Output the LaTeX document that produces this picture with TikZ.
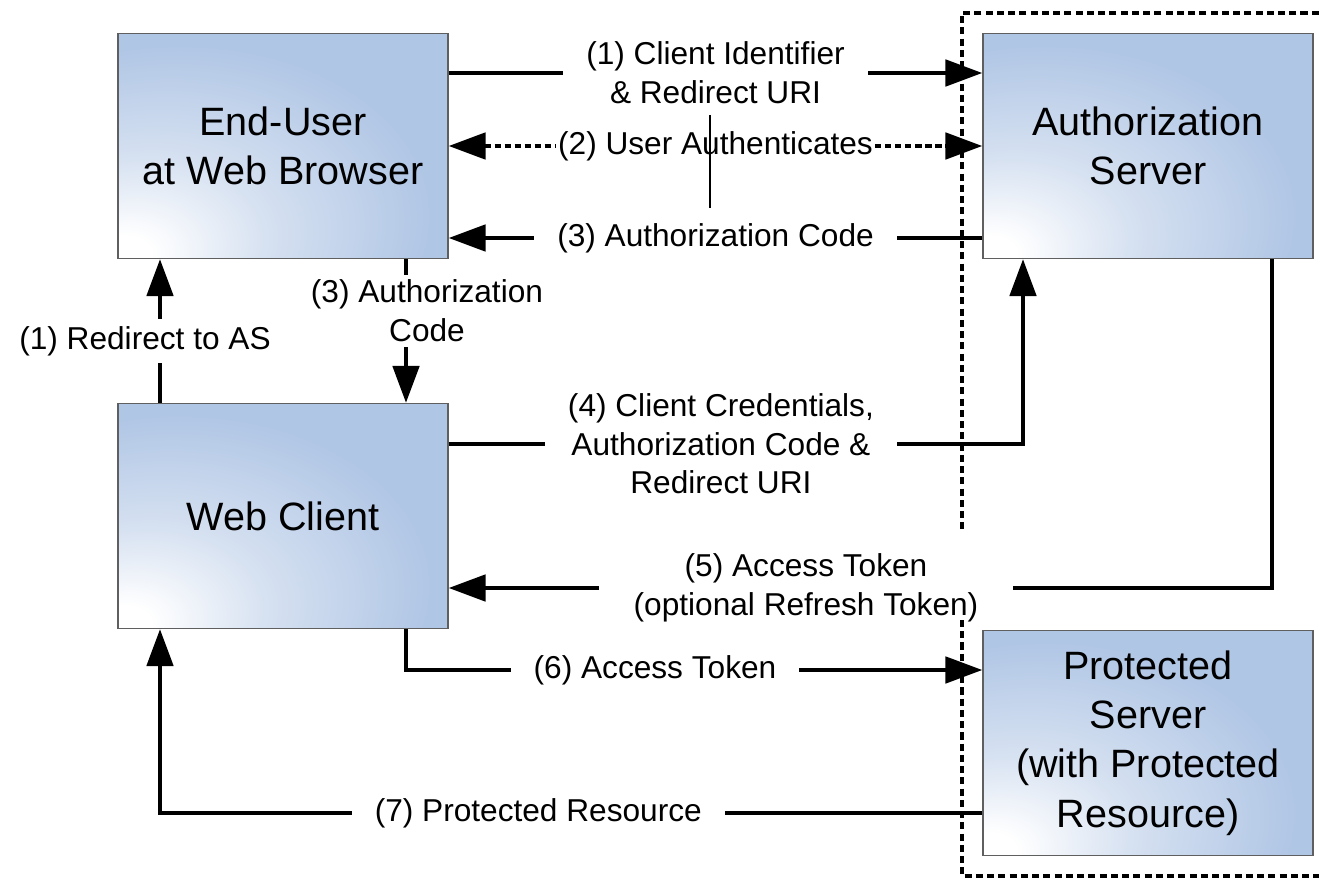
\documentclass[tikz,border=0pt]{standalone}
\usepackage{fontspec}
\setmainfont{Liberation Sans}
\usepackage{xcolor}
\usepackage{tikz}
\usetikzlibrary{arrows.meta, positioning}

\definecolor{boxblue}{RGB}{176,198,229}
\definecolor{boxlight}{RGB}{214,225,241}
\definecolor{boxedge}{RGB}{95,95,95}

% soft fill for the party boxes: white glow at the lower left corner
\pgfdeclareradialshading{boxfade}{\pgfpoint{-25bp}{-25bp}}{color(0bp)=(white); color(4bp)=(white); color(18bp)=(boxlight); color(38bp)=(boxblue); color(100bp)=(boxblue)}

\begin{document}
\begin{tikzpicture}[
    box/.style={rectangle, draw=boxedge, line width=0.8pt, shade, shading=boxfade, minimum width=6.6cm, minimum height=4.5cm, align=center, font=\fontsize{22.5}{28}\selectfont},
    lbl/.style={fill=white, align=center, inner xsep=13pt, inner ysep=3pt, font=\fontsize{18}{22}\selectfont},
    arrow/.style={-{Triangle[length=21pt, width=15pt]}, line width=2.2pt},
    dotarrow/.style={{Triangle[length=21pt, width=15pt]}-{Triangle[length=21pt, width=15pt]}, line width=2.2pt, dash pattern=on 3.5pt off 2.2pt},
    frame/.style={line width=2.2pt, dash pattern=on 4pt off 2.4pt}
]
\useasboundingbox (0,0) rectangle (26.38,-17.58);

% Parties
\node[box] (browser) at (5.66,-2.92) {End-User\\at Web Browser};
\node[box] (authsrv) at (22.96,-2.92) {Authorization\\Server};
\node[box] (client) at (5.66,-10.32) {Web Client};
\node[box] (protsrv) at (22.96,-14.86) {Protected\\Server\\(with Protected\\Resource)};

% Browser <-> authorization server
\draw[arrow] ([yshift=1.46cm]browser.east) -- node[lbl] {(1) Client Identifier\\\& Redirect URI} ([yshift=1.46cm]authsrv.west);
\draw[dotarrow] (browser.east) -- node[lbl, inner xsep=1pt] {(2) User Authenticates} (authsrv.west);
\draw[arrow] ([yshift=-1.84cm]authsrv.west) -- node[lbl] {(3) Authorization Code} ([yshift=-1.84cm]browser.east);
\draw[line width=0.6pt] (14.2,-2.3) -- (14.2,-4.16);

% Web client <-> browser
\draw[arrow] ([xshift=-2.46cm]client.north) -- node[lbl, pos=0.43, xshift=-0.3cm, inner xsep=2pt, inner ysep=4pt] {(1) Redirect to AS} ([xshift=-2.46cm]browser.south);
\draw[arrow] ([xshift=2.46cm]browser.south) -- node[lbl, pos=0.36, xshift=0.42cm, inner xsep=2pt] {(3) Authorization\\Code} ([xshift=2.46cm]client.north);

% Web client <-> servers
\draw[arrow] ([yshift=1.44cm]client.east) -| node[lbl, pos=0.237] {(4) Client Credentials,\\Authorization Code \&\\Redirect URI} ([xshift=-2.5cm]authsrv.south);
\draw[arrow] ([xshift=2.48cm]authsrv.south) |- node[lbl, pos=0.783, inner xsep=20pt] {(5) Access Token\\(optional Refresh Token)} ([yshift=-1.44cm]client.east);
\draw[arrow] ([xshift=2.46cm]client.south) |- node[lbl, pos=0.716] {(6) Access Token} ([yshift=1.46cm]protsrv.west);
\draw[arrow] ([yshift=-1.4cm]protsrv.west) -| node[lbl, pos=0.27] {(7) Protected Resource} ([xshift=-2.46cm]client.south);

% Server side boundary
\draw[frame] (26.6,-0.26) -- (19.24,-0.26) -- (19.24,-10.6);
\draw[frame] (19.24,-12.4) -- (19.24,-17.52) -- (26.6,-17.52);

\end{tikzpicture}
\end{document}
